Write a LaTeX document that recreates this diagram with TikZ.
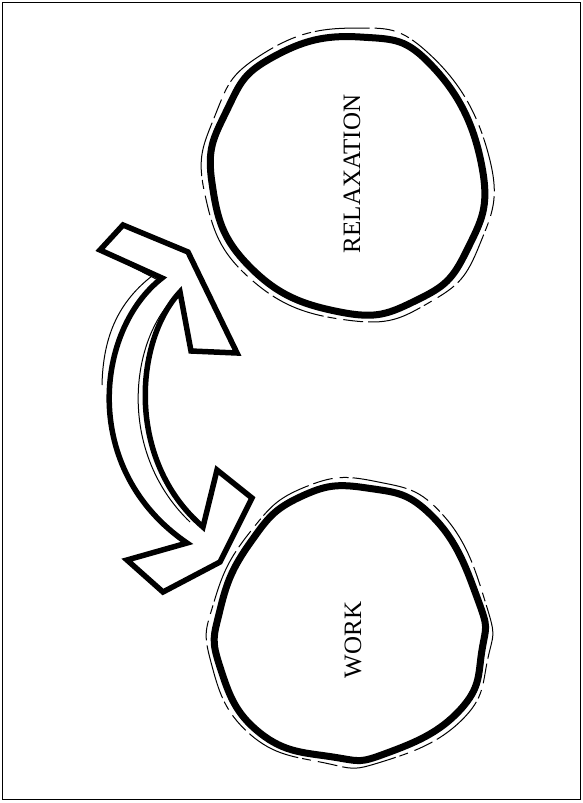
\documentclass[tikz,border=0pt]{standalone}
\usepackage{fontspec}
\setmainfont{Liberation Serif}
\usepackage{tikz}
\usetikzlibrary{calc}

\begin{document}
\begin{tikzpicture}[x=1pt,y=-1pt,
  blob/.style={line width=7pt,line join=round},
  sketch/.style={line width=1pt,dash pattern=on 55pt off 5pt on 20pt off 7pt on 9pt off 4pt},
  arrowline/.style={line width=5.5pt,line join=miter,fill=white},
  label/.style={rotate=90,inner sep=0pt,font=\fontsize{25}{26}\selectfont}]
  \useasboundingbox (0,0) rectangle (583,803);
  \draw[line width=1.4pt] (2.5,2.5) rectangle (580.5,799.5);
  % relaxation blob
  \begin{scope}[shift={(348,176)}]
    \draw[blob] plot[smooth cycle,tension=0.8] coordinates {(12,-139) (85,-109) (134,-9) (119,74) (69,124) (-8,136) (-98,91) (-136,7) (-121,-66) (-75,-119)};
    \draw[sketch,rotate=4,scale=1.06] plot[smooth cycle,tension=0.8] coordinates {(12,-139) (85,-109) (134,-9) (119,74) (69,124) (-8,136) (-98,91) (-136,7) (-121,-66) (-75,-119)};
  \end{scope}
  \node[label] (relax) at (352,174) {RELAXATION};
  % work blob
  \begin{scope}[shift={(350,628)}]
    \draw[blob] plot[smooth cycle,tension=0.8] coordinates {(17,-140) (83,-111) (128,-28) (132,22) (110,82) (37,125) (-17,129) (-90,105) (-130,39) (-130,-18) (-100,-85) (-50,-131)};
    \draw[sketch,rotate=-3,scale=1.055] plot[smooth cycle,tension=0.8] coordinates {(17,-140) (83,-111) (128,-28) (132,22) (110,82) (37,125) (-17,129) (-90,105) (-130,39) (-130,-18) (-100,-85) (-50,-131)};
  \end{scope}
  \node[label] (work) at (353,640) {WORK};
  % curved double arrow
  \draw[arrowline] (162,278) -- (100,250) -- (123,225) -- (188,252) -- (237,353) -- (191,351) -- (180,292)
    .. controls (135,340) and (125,460) .. (203,527)
    -- (217,470) -- (252,498) -- (220,562) -- (163,592) -- (127,560) -- (187,543)
    .. controls (80,470) and (95,330) .. cycle;
  \draw[line width=1pt] (113,257) -- (160,281)
    (172,300) .. controls (128,348) and (120,455) .. (190,522);
  \draw[line width=1pt] (152,276) .. controls (116,304) and (103,340) .. (102,385);
\end{tikzpicture}
\end{document}
